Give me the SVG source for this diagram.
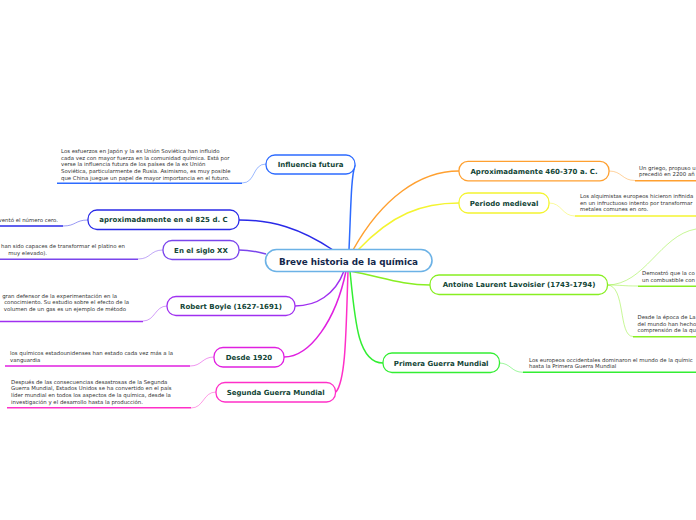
<svg xmlns="http://www.w3.org/2000/svg" width="696" height="520" viewBox="0 0 696 520">
<style>
.bg{fill:#ffffff}
.node{fill:#ffffff;stroke-width:1.3}
.lbl{font-family:"DejaVu Sans",Verdana,sans-serif;font-weight:bold;font-size:7px;fill:#124536;text-anchor:middle}
.title{font-family:"DejaVu Sans",Verdana,sans-serif;font-weight:bold;font-size:8.8px;fill:#14284c;text-anchor:middle}
.note{font-family:"DejaVu Sans",Verdana,sans-serif;font-size:5.4px;fill:#333333}
.end{text-anchor:end}
.ul{fill:none;stroke-width:1.6}
.con{fill:none;stroke-width:1.5}
.lnk{fill:none;stroke-width:0.8;opacity:0.6}
</style>
<rect class="bg" x="0" y="0" width="696" height="520"/>
<g id="connectors">
  <path class="con" stroke="#2d6bff" d="M349,250 C351,205 351,178 355,165"/>
  <path class="con" stroke="#2a2ae8" d="M333,250 C300,228 272,220 239,220"/>
  <path class="con" stroke="#7a45ec" d="M266,254 C255,251 250,250 239,250"/>
  <path class="con" stroke="#a030f0" d="M344,271 C335,295 316,306 295,306"/>
  <path class="con" stroke="#e020e0" d="M346,271 C336,320 310,357 284,357"/>
  <path class="con" stroke="#ff30c8" d="M348,271 C346,330 346,380 336,392"/>
  <path class="con" stroke="#ffa030" d="M353,250 C382,198 420,171 459,171"/>
  <path class="con" stroke="#f4f430" d="M358,250 C392,214 422,203 459,203"/>
  <path class="con" stroke="#88ee22" d="M350,271 C382,277 402,285 430,285"/>
  <path class="con" stroke="#33ee33" d="M350,271 C355,322 358,363 383,363"/>
  <path class="lnk" stroke="#2d6bff" d="M266,164 C252,164 256,183 242,183"/>
  <path class="lnk" stroke="#2a2ae8" d="M88,220 C75,220 76,226 63,226"/>
  <path class="lnk" stroke="#7a45ec" d="M163,250 C150,250 151,259 138,259"/>
  <path class="lnk" stroke="#a030f0" d="M167,306 C155,306 155,321 143,321"/>
  <path class="lnk" stroke="#e020e0" d="M214,357 C202,357 202,366 190,366"/>
  <path class="lnk" stroke="#ff30c8" d="M216,392 C203,392 204,408 191,408"/>
  <path class="lnk" stroke="#ffa030" d="M609,171 C622,171 622,180.5 635,180.5"/>
  <path class="lnk" stroke="#f4f430" d="M549,203 C562,203 562,216 575,216"/>
  <path class="lnk" stroke="#88ee22" d="M607,285 C622,285 622,286 638,286"/>
  <path class="lnk" stroke="#88ee22" d="M607,285 C645,285 660,235 696,229"/>
  <path class="lnk" stroke="#88ee22" d="M607,285 C626,285 618,336.5 633,336.5"/>
  <path class="lnk" stroke="#33ee33" d="M499,363 C511,363 511,372.3 523,372.3"/>
</g>
<g id="n-center">
  <rect x="265.5" y="249.5" width="166.5" height="22" rx="11" fill="#ffffff" stroke="#6cb2e6" stroke-width="1.6"/>
  <text class="title" x="348.5" y="264.5">Breve historia de la química</text>
</g>
<g id="n-influencia">
  <rect class="node" stroke="#2d6bff" x="266" y="155" width="89" height="19" rx="9"/>
  <text class="lbl" x="310.5" y="167">Influencia futura</text>
  <path class="ul" stroke="#2d6bff" d="M57,183.3 H242"/>
  <text class="note" x="61" y="153">Los esfuerzos en Japón y la ex Unión Soviética han influido</text>
  <text class="note" x="61" y="159.7">cada vez con mayor fuerza en la comunidad química. Está por</text>
  <text class="note" x="61" y="166.3">verse la influencia futura de los países de la ex Unión</text>
  <text class="note" x="61" y="173">Soviética, particularmente de Rusia. Asimismo, es muy posible</text>
  <text class="note" x="61" y="179.7">que China juegue un papel de mayor importancia en el futuro.</text>
</g>
<g id="n-825">
  <rect class="node" stroke="#2a2ae8" x="88" y="210" width="151" height="19.5" rx="9"/>
  <text class="lbl" x="163.5" y="222.3">aproximadamente en el 825 d. C</text>
  <path class="ul" stroke="#2a2ae8" d="M0,226 H63"/>
  <text class="note end" x="58" y="221.8">ventó el número cero.</text>
</g>
<g id="n-sigloxx">
  <rect class="node" stroke="#7a45ec" x="163" y="240.5" width="76" height="19" rx="9"/>
  <text class="lbl" x="201" y="252.5">En el siglo XX</text>
  <path class="ul" stroke="#7a45ec" d="M0,259.3 H138"/>
  <text class="note end" x="125" y="247.9">han sido capaces de transformar el platino en</text>
  <text class="note end" x="47" y="254.6">muy elevado).</text>
</g>
<g id="n-boyle">
  <rect class="node" stroke="#a030f0" x="167" y="296.5" width="128" height="19" rx="9"/>
  <text class="lbl" x="231" y="308.5">Robert Boyle (1627-1691)</text>
  <path class="ul" stroke="#a030f0" d="M0,321.5 H143"/>
  <text class="note end" x="117" y="297.7">gran defensor de la experimentación en la</text>
  <text class="note end" x="129" y="304.3">conocimiento. Su estudio sobre el efecto de la</text>
  <text class="note end" x="126" y="311">volumen de un gas es un ejemplo de método</text>
</g>
<g id="n-1920">
  <rect class="node" stroke="#e020e0" x="214" y="347.5" width="70" height="19.5" rx="9"/>
  <text class="lbl" x="249" y="359.8">Desde 1920</text>
  <path class="ul" stroke="#e020e0" d="M5,366 H190"/>
  <text class="note" x="10" y="355.3">los químicos estadounidenses han estado cada vez más a la</text>
  <text class="note" x="10" y="362">vanguardia</text>
</g>
<g id="n-segunda">
  <rect class="node" stroke="#ff30c8" x="216" y="382.5" width="119.5" height="19.5" rx="9"/>
  <text class="lbl" x="275.7" y="394.8">Segunda Guerra Mundial</text>
  <path class="ul" stroke="#ff30c8" d="M7,407.7 H191"/>
  <text class="note" x="11" y="383.7">Después de las consecuencias desastrosas de la Segunda</text>
  <text class="note" x="11" y="390.3">Guerra Mundial, Estados Unidos se ha convertido en el país</text>
  <text class="note" x="11" y="397">líder mundial en todos los aspectos de la química, desde la</text>
  <text class="note" x="11" y="403.7">investigación y el desarrollo hasta la producción.</text>
</g>
<g id="n-460">
  <rect class="node" stroke="#ffa030" x="459" y="161.3" width="150" height="19.5" rx="9"/>
  <text class="lbl" x="534" y="173.5">Aproximadamente 460-370 a. C.</text>
  <path class="ul" stroke="#ffa030" d="M635,180.7 H696"/>
  <text class="note" x="639" y="169.7">Un griego, propuso u</text>
  <text class="note" x="639" y="176.3">precedió en 2200 añ</text>
</g>
<g id="n-medieval">
  <rect class="node" stroke="#f4f430" x="459" y="193" width="90" height="20" rx="9"/>
  <text class="lbl" x="504" y="205.5">Periodo medieval</text>
  <path class="ul" stroke="#f4f430" d="M575,216 H696"/>
  <text class="note" x="580" y="198">Los alquimistas europeos hicieron infinida</text>
  <text class="note" x="580" y="204.7">en un infructuoso intento por transformar</text>
  <text class="note" x="580" y="211">metales comunes en oro.</text>
</g>
<g id="n-lavoisier">
  <rect class="node" stroke="#88ee22" x="430" y="275" width="177.5" height="19.5" rx="9"/>
  <text class="lbl" x="519" y="287.3">Antoine Laurent Lavoisier (1743-1794)</text>
  <path class="ul" stroke="#88ee22" d="M638,286.3 H696"/>
  <text class="note" x="642" y="275.3">Demostró que la co</text>
  <text class="note" x="642" y="282">un combustible con</text>
  <path class="ul" stroke="#88ee22" d="M633,336.7 H696"/>
  <text class="note" x="637.5" y="319">Desde la época de La</text>
  <text class="note" x="637.5" y="325.6">del mundo han hecho</text>
  <text class="note" x="637.5" y="332">comprensión de la qu</text>
</g>
<g id="n-primera">
  <rect class="node" stroke="#33ee33" x="383" y="353" width="116.5" height="19.5" rx="9"/>
  <text class="lbl" x="441.2" y="365.5">Primera Guerra Mundial</text>
  <path class="ul" stroke="#33ee33" d="M523,372.3 H696"/>
  <text class="note" x="529" y="361.6">Los europeos occidentales dominaron el mundo de la químic</text>
  <text class="note" x="529" y="368">hasta la Primera Guerra Mundial</text>
</g>
</svg>
